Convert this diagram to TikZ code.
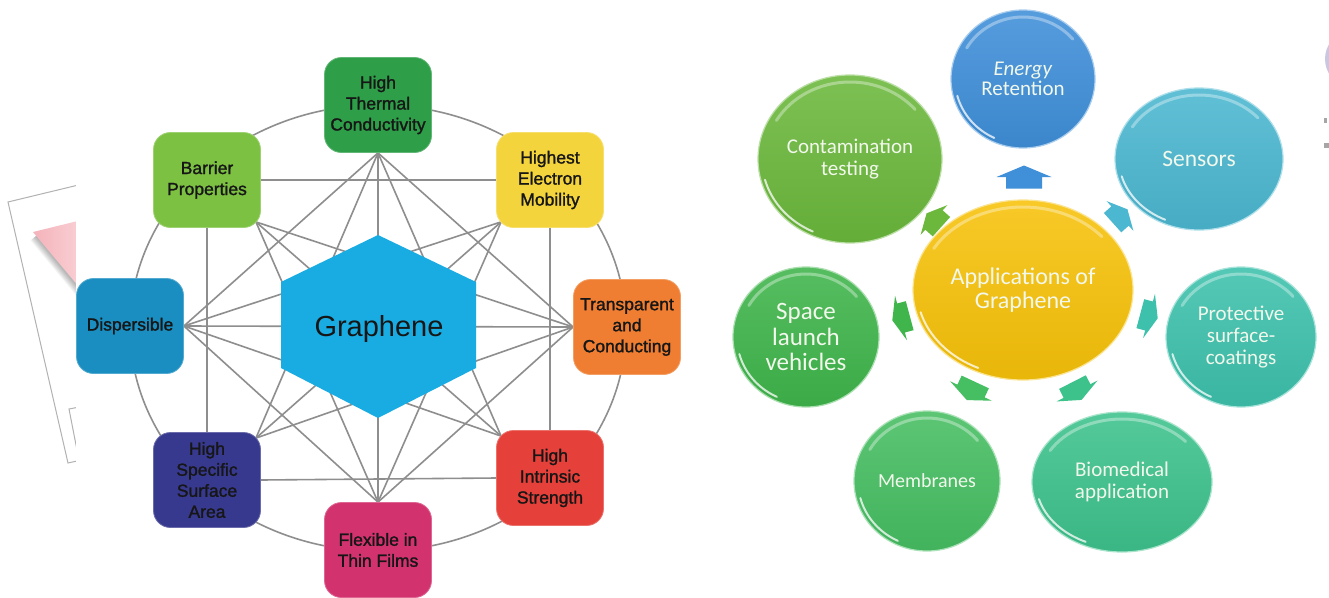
\documentclass[tikz,border=0pt]{standalone}
\usepackage{fontspec}
\setmainfont{Liberation Sans}
\newfontfamily\boxfont{Liberation Sans}[FakeBold=1.4]
\newfontfamily\calfont{Carlito}
\usetikzlibrary{calc,shapes.geometric}

% property wheel colours
\definecolor{linegray}{HTML}{8E8E8E}
\definecolor{hexblue}{HTML}{19ACE2}
\definecolor{cThermal}{HTML}{2E9E48}
\definecolor{cBarrier}{HTML}{7DC142}
\definecolor{cMobility}{HTML}{F4D43C}
\definecolor{cTransp}{HTML}{EF7E32}
\definecolor{cStrength}{HTML}{E5413A}
\definecolor{cFlex}{HTML}{D2336E}
\definecolor{cSurface}{HTML}{37398E}
\definecolor{cDisp}{HTML}{1A8EC0}
\definecolor{boxtext}{HTML}{161616}
% application bubbles
\definecolor{bEnergy}{HTML}{3F8FD9}
\definecolor{bContam}{HTML}{6BB83C}
\definecolor{bSensor}{HTML}{4BB7D0}
\definecolor{bCenter}{HTML}{F7C20A}
\definecolor{bSpace}{HTML}{3FB54B}
\definecolor{bMembr}{HTML}{46BE62}
\definecolor{bBio}{HTML}{3DC28C}
\definecolor{bProt}{HTML}{3DC1AC}
\definecolor{centertext}{HTML}{6A5B3C}
\definecolor{bubbletext}{HTML}{F2F8EC}
\definecolor{pagepink}{HTML}{F4B3BA}
\definecolor{lavender}{HTML}{C9C7E2}

\pgfdeclarelayer{bg}
\pgfsetlayers{bg,main}

\tikzset{
  conn/.style={draw=linegray, line width=1.6pt},
  propbox/.style={rounded corners=17pt, minimum width=107pt, minimum height=95pt,
    inner sep=2pt, align=center, text=boxtext, fill=#1, draw=#1!75!white, line width=0.8pt,
    font=\boxfont\fontsize{17.5pt}{21pt}\selectfont},
  bubble/.style={ellipse, inner sep=0pt, align=center, text=bubbletext,
    top color=#1!88!white, bottom color=#1!94!black, draw=#1!45!white, line width=1.2pt},
  shine/.style={draw=white, line cap=round},
  pics/blockarrow/.style n args={3}{code={
    \path[pic actions] (-#1/2,-#3/2) -- (0,-#3/2) -- (0,-#2/2) -- (#1/2,0)
      -- (0,#2/2) -- (0,#3/2) -- (-#1/2,#3/2) -- cycle;}}
}

% glossy application bubble: name, x, y, x radius, y radius, colour, font, text
\newcommand\glossbubble[8]{%
  \node[bubble=#6, minimum width=2*#4pt, minimum height=2*#5pt, font=\calfont#7] (#1) at (#2,#3) {#8};
  \draw[shine, opacity=0.35, line width=3pt]
    ([shift={(150:{#4pt-7pt} and {#5pt-7pt})}]#1.center)
    arc[start angle=150, end angle=40, x radius=#4pt-7pt, y radius=#5pt-7pt];
  \draw[shine, opacity=0.75, line width=2pt]
    ([shift={(195:{#4pt-4pt} and {#5pt-4pt})}]#1.center)
    arc[start angle=195, end angle=245, x radius=#4pt-4pt, y radius=#5pt-4pt];
}

\begin{document}
\begin{tikzpicture}[x=1pt, y=-1pt]
\useasboundingbox (0,0) rectangle (1329,597);

% ---------- graphene property wheel ----------
\coordinate (ring) at (378,328);
\fill[hexblue] (378,235) -- (476,282) -- (476,368) -- (378,418) -- (281,368) -- (281,282) -- cycle;
\node[font=\fontsize{29pt}{34pt}\selectfont, text=boxtext] (graphene) at (379,329) {Graphene};

\node[propbox=cThermal]  (htc)  at (378,105) {High\\Thermal\\Conductivity};
\node[propbox=cMobility] (hem)  at (550,180) {Highest\\Electron\\Mobility};
\node[propbox=cTransp]   (tc)   at (627,327) {Transparent\\and\\Conducting};
\node[propbox=cStrength] (his)  at (550,478) {High\\Intrinsic\\Strength};
\node[propbox=cFlex]     (flex) at (378,550) {Flexible in\\Thin Films};
\node[propbox=cSurface]  (hssa) at (207,480) {High\\Specific\\Surface\\Area};
\node[propbox=cDisp]     (disp) at (130,326) {Dispersible};
\node[propbox=cBarrier]  (bar)  at (207,180) {Barrier\\Properties};

% meeting points of the spokes on each box
\coordinate (htcP)  at (htc.south);
\coordinate (flexP) at (flex.north);
\coordinate (dispP) at (disp.east);
\coordinate (tcP)   at (tc.west);
\coordinate (barP)  at ($(bar.south east)+(-5,-6)$);
\coordinate (hemP)  at ($(hem.south west)+(5,-6)$);
\coordinate (hisP)  at ($(his.north west)+(5,6)$);
\coordinate (hssaP) at ($(hssa.north east)+(-5,6)$);

\begin{pgfonlayer}{bg}
  \fill[white] (0,0) rectangle (1329,597);
  % loose page sheet peeking out at the far left
  \begin{scope}
    \clip (0,150) rectangle (76,480);
    \foreach \k in {2,4,...,14}
      \draw[black, opacity=0.045, line width=\k pt] (36,236) -- (84,294);
    \shade[left color=pagepink, right color=pagepink!55!white]
      (33,232) -- (90,218) -- (90,300) -- cycle;
    \draw[black!30, line width=1pt] (95,181) -- (8,202) -- (68,463) -- (95,457);
    \draw[black!30, line width=1pt] (95,404) -- (69,409) -- (77,450);
  \end{scope}
  \fill[white] (76,150) rectangle (700,597);
  % wheel connectors
  \draw[conn] (ring) ellipse [x radius=248pt, y radius=223pt];
  \foreach \a/\b in {htcP/tcP, tcP/flexP, flexP/dispP, dispP/htcP,
                     htcP/hisP, hemP/flexP, tcP/hssaP, hisP/dispP,
                     flexP/barP, hssaP/htcP, dispP/hemP, barP/tcP,
                     htcP/flexP, hemP/hssaP, tcP/dispP, hisP/barP}
    \draw[conn] (\a) -- (\b);
  \draw[conn] (bar.east) -- (hem.west);
  \draw[conn] (hem.south) -- (his.north);
  \draw[conn] (his.west) -- (hssa.east);
  \draw[conn] (hssa.north) -- (bar.south);
\end{pgfonlayer}

% ---------- applications of graphene ----------
\glossbubble{energy}{1023}{79}{72}{69}{bEnergy}{\fontsize{21pt}{20pt}\selectfont}{\textit{Energy}\\Retention}
\glossbubble{contam}{850}{159}{92}{84}{bContam}{\fontsize{21pt}{22pt}\selectfont}{Contamination\\testing}
\glossbubble{sensors}{1199}{159}{84}{71}{bSensor}{\fontsize{23.5pt}{26pt}\selectfont}{Sensors}
\glossbubble{space}{806}{337}{73}{70}{bSpace}{\fontsize{25pt}{25.5pt}\selectfont}{Space\\launch\\vehicles}
\glossbubble{membr}{927}{481}{73}{70}{bMembr}{\fontsize{20pt}{22pt}\selectfont}{Membranes}
\glossbubble{bio}{1122}{482}{90}{70}{bBio}{\fontsize{21pt}{21.5pt}\selectfont}{Biomedical\\application}
\glossbubble{prot}{1241}{337}{75}{70}{bProt}{\fontsize{21pt}{22pt}\selectfont}{Protective\\surface-\\coatings}
\glossbubble{apps}{1023}{290}{110}{90}{bCenter}{\fontsize{24pt}{24pt}\selectfont\color{centertext}}{Applications of\\Graphene}

% outward block arrows around the centre
\pic[fill=bEnergy, rotate=90]   at (1024,177) {blockarrow={23}{55}{36}};
\pic[fill=bContam, rotate=138]  at (934,220)  {blockarrow={20}{40}{26}};
\pic[fill=bSensor, rotate=42]   at (1120,216) {blockarrow={20}{40}{26}};
\pic[fill=bSpace, rotate=195]   at (901,318)  {blockarrow={18}{46}{30}};
\pic[fill=bProt, rotate=-15]    at (1149,316) {blockarrow={18}{46}{30}};
\pic[fill=bMembr, rotate=-115]  at (971,391)  {blockarrow={20}{46}{30}};
\pic[fill=bBio, rotate=-63]     at (1077,391) {blockarrow={20}{46}{30}};

% edge of a neighbouring shape at the top right
\begin{scope}
  \clip (0,0) rectangle (1329,597);
  \fill[lavender] (1346,59) ellipse [x radius=21pt, y radius=25pt];
  \fill[black!35] (1324,118) rectangle (1327,123);
  \fill[black!35] (1324,143) rectangle (1329,148);
\end{scope}
\end{tikzpicture}
\end{document}
